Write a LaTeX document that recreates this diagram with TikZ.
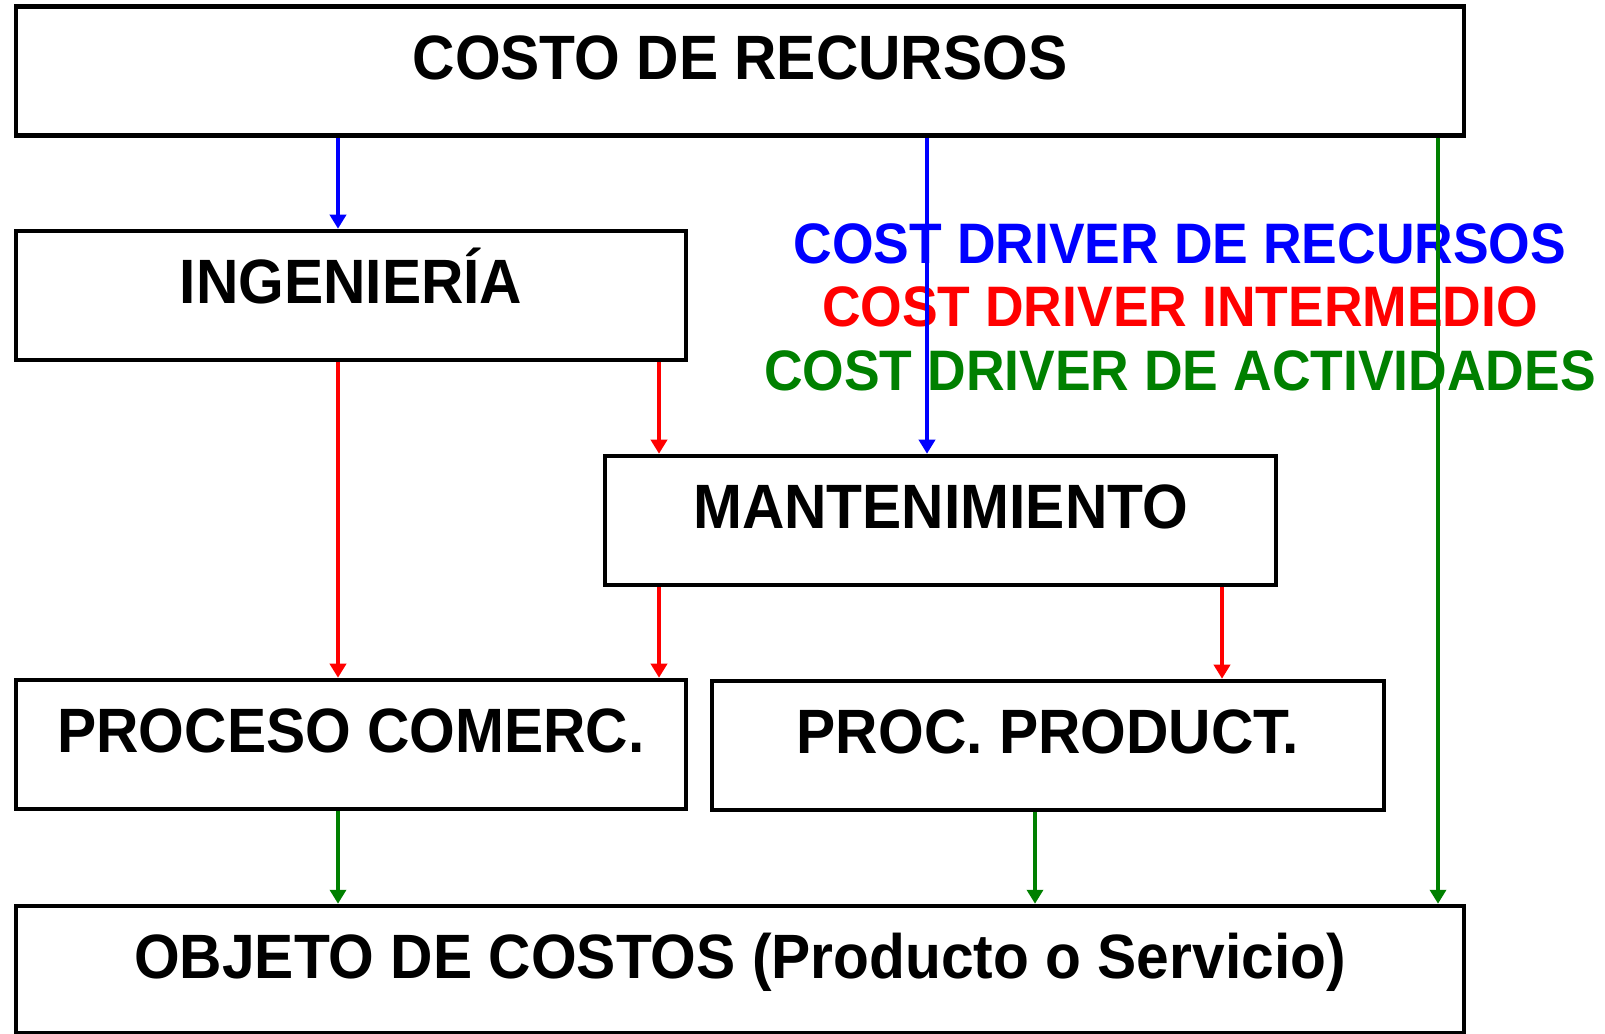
\documentclass[tikz,border=0pt]{standalone}
\usepackage{fontspec}
\newfontfamily\arial[FakeStretch=0.937]{Liberation Sans}
\usetikzlibrary{arrows.meta}

\begin{document}
\begin{tikzpicture}[x=0.75pt,y=-0.75pt,
    box/.style={draw,line width=3.4pt,inner sep=0pt,text height=54.4pt,text depth=42.35pt,
      font={\arial\bfseries\fontsize{47}{50}\selectfont}},
    drv/.style={inner sep=0pt,anchor=base,font={\arial\bfseries\fontsize{42.8}{46}\selectfont}},
    blu/.style={draw=blue,line width=3.6pt,-{Triangle[length=10.5pt,width=12pt]}},
    rd/.style={draw=red,line width=3.6pt,-{Triangle[length=10.5pt,width=12pt]}},
    grn/.style={draw={rgb,255:red,0;green,128;blue,0},line width=3.6pt,-{Triangle[length=10.5pt,width=12pt]}}]
    \useasboundingbox (0,0) rectangle (1605,1033);
    % boxes
    \node[box,minimum width=1086pt] (cost) at (740,71) {COSTO DE RECURSOS};
    \node[box,minimum width=502.5pt] (ing) at (351,295.5) {INGENIERÍA};
    \node[box,minimum width=503.25pt] (mant) at (940.5,520.5) {MANTENIMIENTO};
    \node[box,minimum width=502.5pt] (proc) at (351,744.5) {PROCESO COMERC.};
    \node[box,minimum width=504pt] (prod) at (1048,745.5) {PROC. PRODUCT.};
    \node[box,minimum width=1086pt,text depth=40.85pt] (obj) at (740,969.5) {OBJETO DE COSTOS (Producto o Servicio)};
    % cost drivers
    \node[drv,text=blue] (drvres) at (1180,263) {COST DRIVER DE RECURSOS};
    \node[drv,text=red] (drvint) at (1180,326.5) {COST DRIVER INTERMEDIO};
    \node[drv,text={rgb,255:red,0;green,128;blue,0}] (drvact) at (1180,390) {COST DRIVER DE ACTIVIDADES};
    % arrows
    \draw[blu] (cost.south -| 338,0) -- (ing.north -| 338,0);
    \draw[blu] (cost.south -| 927,0) -- (mant.north -| 927,0);
    \draw[grn] (cost.south -| 1438,0) -- (obj.north -| 1438,0);
    \draw[rd] (ing.south -| 338,0) -- (proc.north -| 338,0);
    \draw[rd] (ing.south -| 659,0) -- (mant.north -| 659,0);
    \draw[rd] (mant.south -| 659,0) -- (proc.north -| 659,0);
    \draw[rd] (mant.south -| 1222,0) -- (prod.north -| 1222,0);
    \draw[grn] (proc.south -| 338,0) -- (obj.north -| 338,0);
    \draw[grn] (prod.south -| 1035,0) -- (obj.north -| 1035,0);
\end{tikzpicture}
\end{document}
